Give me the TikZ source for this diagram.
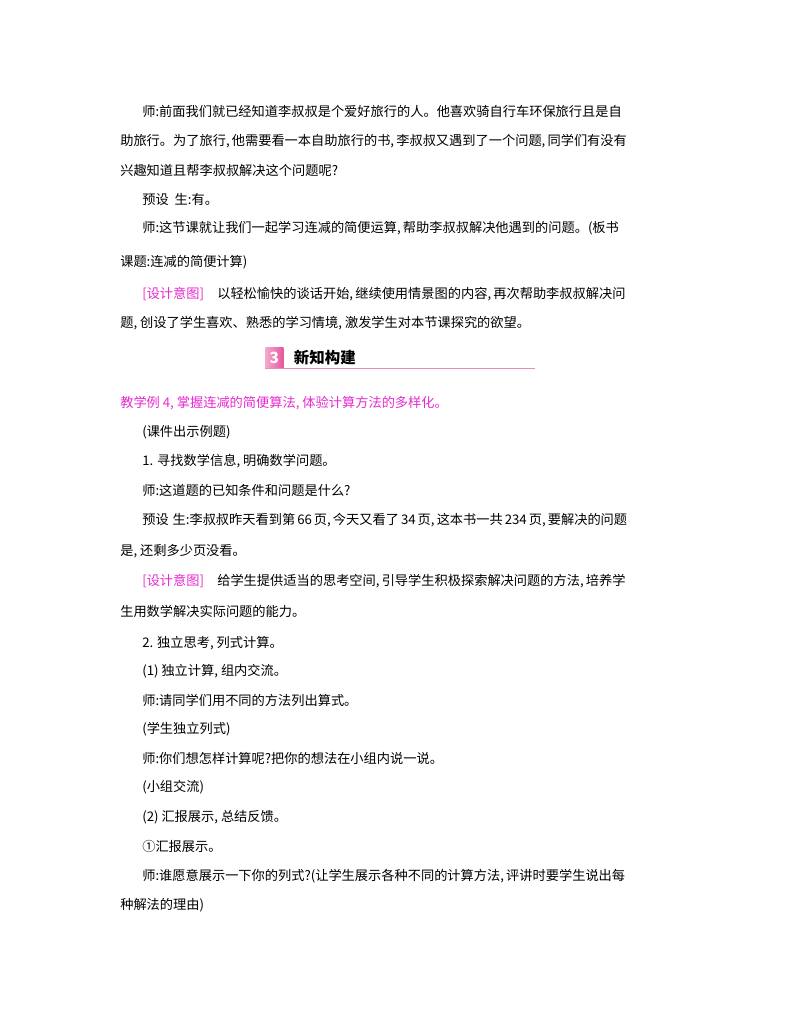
\documentclass[tikz,border=0pt]{standalone}
\usepackage{fontspec}
\setmainfont{Noto Sans CJK SC}
\definecolor{mypink}{HTML}{E62BD0}
\definecolor{mybadge}{HTML}{E8559C}
\tikzstyle{row} = [anchor=west, inner sep=0pt, font=\fontsize{9.4}{11}\selectfont]
\XeTeXlinebreaklocale "zh"
\XeTeXlinebreakskip = 0pt plus 2pt
\begin{document}
\begin{tikzpicture}[x=0.025cm, y=-0.025cm]
    \useasboundingbox (0,0) rectangle (800,1028);
    % Intro
    \node [row] (r1) at (142,111) {\hbox to 11.45cm{师:前面我们就已经知道李叔叔是个爱好旅行的人。他喜欢骑自行车环保旅行且是自}};
    \node [row] (r2) at (120,141) {\hbox to 12cm{助旅行。为了旅行, 他需要看一本自助旅行的书, 李叔叔又遇到了一个问题, 同学们有没有}};
    \node [row] (r3) at (120,170) {兴趣知道且帮李叔叔解决这个问题呢?};
    \node [row] (r4) at (142,199) {预设\ \ 生:有。};
    \node [row] (r5) at (142,228) {\hbox to 11.45cm{师:这节课就让我们一起学习连减的简便运算, 帮助李叔叔解决他遇到的问题。(板书}};
    \node [row] (r6) at (120,262) {课题:连减的简便计算)};
    \node [row] (r7) at (142,294) {\hbox to 11.45cm{\textcolor{mypink}{[设计意图]}\quad 以轻松愉快的谈话开始, 继续使用情景图的内容, 再次帮助李叔叔解决问}};
    \node [row] (r8) at (120,323) {题, 创设了学生喜欢、熟悉的学习情境, 激发学生对本节课探究的欲望。};
    % Section header
    \node [minimum width=0.45cm, minimum height=0.525cm, inner sep=0pt,
      left color=mybadge!50, right color=mybadge, anchor=north west,
      font=\bfseries\itshape\fontsize{11}{11}\selectfont, text=white] (badge) at (265,347) {3};
    \node [anchor=west, inner sep=0pt, font=\bfseries\fontsize{11}{12}\selectfont] (title) at ([xshift=0.25cm]badge.east) {新知构建};
    \coordinate (rule) at (535,369);
    \draw [mybadge!70, line width=0.8pt] (badge.south west) -- (badge.south west -| rule);
    % Body
    \node [row, text=mypink] (r9) at (120,403) {教学例 4, 掌握连减的简便算法, 体验计算方法的多样化。};
    \node [row] (r10) at (142,432) {(课件出示例题)};
    \node [row] (r11) at (142,461) {1. 寻找数学信息, 明确数学问题。};
    \node [row] (r12) at (142,490) {师:这道题的已知条件和问题是什么?};
    \node [row] (r13) at (142,520) {\hbox to 11.45cm{预设\ \ 生:李叔叔昨天看到第 66 页, 今天又看了 34 页, 这本书一共 234 页, 要解决的问题}};
    \node [row] (r14) at (120,551) {是, 还剩多少页没看。};
    \node [row] (r15) at (142,581) {\hbox to 11.45cm{\textcolor{mypink}{[设计意图]}\quad 给学生提供适当的思考空间, 引导学生积极探索解决问题的方法, 培养学}};
    \node [row] (r16) at (120,611) {生用数学解决实际问题的能力。};
    \node [row] (r17) at (142,643) {2. 独立思考, 列式计算。};
    \node [row] (r18) at (142,671) {(1) 独立计算, 组内交流。};
    \node [row] (r19) at (142,700) {师:请同学们用不同的方法列出算式。};
    \node [row] (r20) at (142,729) {(学生独立列式)};
    \node [row] (r21) at (142,758) {师:你们想怎样计算呢?把你的想法在小组内说一说。};
    \node [row] (r22) at (142,787) {(小组交流)};
    \node [row] (r23) at (142,817) {(2) 汇报展示, 总结反馈。};
    \node [row] (r24) at (142,846) {①汇报展示。};
    \node [row] (r25) at (142,876) {\hbox to 11.45cm{师:谁愿意展示一下你的列式?(让学生展示各种不同的计算方法, 评讲时要学生说出每}};
    \node [row] (r26) at (120,905) {种解法的理由)};
\end{tikzpicture}
\end{document}
